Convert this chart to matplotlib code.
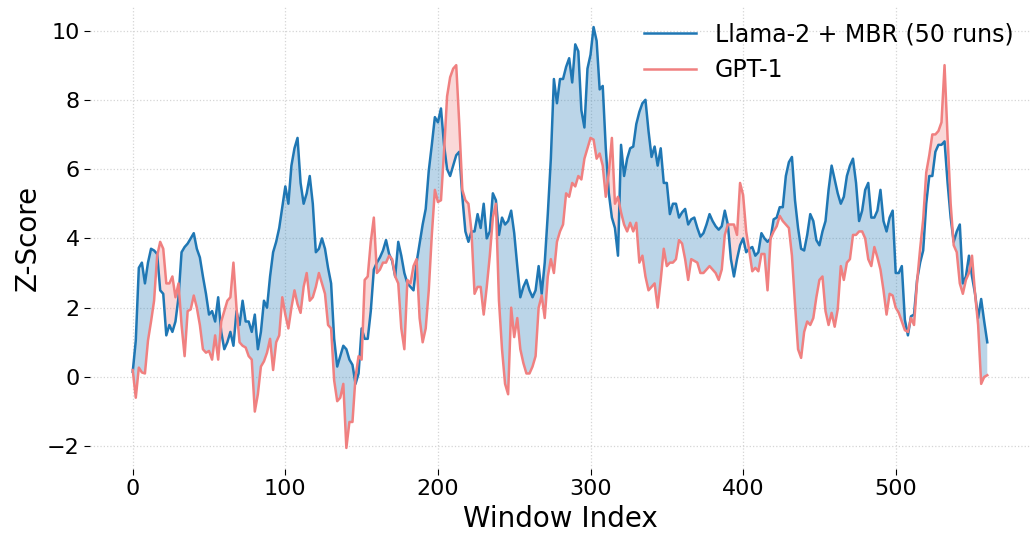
import numpy as np
import matplotlib
matplotlib.use("Agg")
import matplotlib.pyplot as plt

window_index = list(range(0, 561, 2))

llama_mbr = [
    0.15, 1.05, 3.15, 3.3, 2.7, 3.3, 3.7, 3.65, 3.55, 2.5,
    2.4, 1.2, 1.5, 1.3, 1.6, 2.3, 3.6, 3.75, 3.85, 4.0,
    4.15, 3.7, 3.45, 2.9, 2.4, 1.8, 1.9, 1.6, 2.3, 1.3,
    0.8, 1.0, 1.3, 0.9, 1.9, 1.5, 2.2, 1.6, 1.6, 1.3,
    1.8, 0.8, 1.3, 2.2, 2.0, 2.9, 3.6, 3.9, 4.3, 4.9,
    5.5, 5.0, 6.1, 6.6, 6.9, 5.6, 5.0, 5.3, 5.8, 5.0,
    3.6, 3.7, 4.0, 3.7, 3.15, 2.7, 1.1, 0.3, 0.6, 0.9,
    0.8, 0.5, 0.35, -0.2, 0.1, 1.4, 1.1, 1.1, 1.9, 3.1,
    3.3, 3.45, 3.65, 3.95, 3.55, 3.35, 2.9, 3.9, 3.5, 3.0,
    2.7, 2.6, 2.5, 3.3, 3.85, 4.4, 4.85, 5.95, 6.7, 7.5,
    7.35, 7.75, 6.7, 6.0, 5.8, 6.1, 6.4, 6.5, 5.2, 4.2,
    3.9, 4.2, 4.2, 4.7, 4.3, 5.0, 4.0, 4.2, 5.3, 5.1,
    4.1, 4.6, 4.4, 4.5, 4.8, 4.15, 3.2, 2.3, 2.6, 2.8,
    2.5, 2.3, 2.5, 3.2, 2.4, 3.3, 4.7, 6.3, 8.6, 7.9,
    8.6, 8.6, 8.95, 9.2, 8.5, 9.6, 9.4, 7.7, 7.2, 8.9,
    9.3, 10.1, 9.7, 8.3, 8.4, 6.6, 5.3, 4.6, 4.3, 3.5,
    6.7, 5.8, 6.3, 6.6, 6.65, 7.3, 7.65, 7.9, 8.0, 7.1,
    6.35, 6.65, 6.1, 6.6, 5.6, 5.6, 4.7, 5.0, 5.0, 4.6,
    4.75, 4.85, 4.4, 4.55, 4.6, 4.3, 4.05, 4.15, 4.4, 4.7,
    4.5, 4.35, 4.25, 4.35, 4.8, 4.4, 3.4, 2.9, 3.4, 3.8,
    4.0, 3.6, 3.7, 3.75, 3.5, 3.6, 4.15, 4.0, 3.9, 4.0,
    4.55, 4.6, 4.9, 4.9, 5.8, 6.2, 6.35, 5.1, 4.3, 3.7,
    3.65, 4.1, 4.7, 4.5, 3.95, 3.8, 4.2, 4.5, 5.4, 6.1,
    5.7, 5.3, 5.0, 5.2, 5.8, 6.1, 6.3, 5.6, 4.5, 4.8,
    5.4, 5.6, 4.6, 4.6, 4.8, 5.4, 4.5, 4.2, 4.6, 4.8,
    3.0, 3.0, 3.2, 1.65, 1.2, 1.75, 1.8, 2.8, 3.3, 3.65,
    5.0, 5.8, 5.8, 6.5, 6.7, 6.7, 6.8, 5.6, 4.6, 3.9,
    4.2, 4.4, 2.7, 2.9, 3.5, 2.9, 2.4, 1.7, 2.25, 1.6,
    1.0,
]

gpt1 = [
    0.2, -0.6, 0.27, 0.13, 0.1, 1.05, 1.6, 2.2, 3.5, 3.9,
    3.7, 2.7, 2.7, 2.9, 2.3, 2.7, 1.5, 0.6, 1.9, 1.95,
    2.35, 2.0, 1.5, 0.8, 0.7, 0.75, 0.5, 1.2, 0.5, 1.6,
    1.9, 2.2, 2.3, 3.3, 2.0, 1.0, 0.9, 0.85, 0.6, 0.5,
    -1.0, -0.5, 0.3, 0.45, 0.7, 1.1, 0.2, 1.0, 1.2, 2.3,
    1.8, 1.4, 2.0, 2.5, 2.1, 1.85, 2.6, 3.0, 2.2, 2.3,
    2.6, 3.0, 2.7, 2.4, 1.5, 1.4, -0.1, -0.7, -0.6, -0.2,
    -2.05, -1.3, -1.3, 0.0, 0.6, 0.5, 2.8, 2.9, 3.9, 4.6,
    3.0, 3.1, 3.3, 3.3, 3.5, 3.4, 2.9, 2.7, 1.4, 0.8,
    2.8, 2.7, 3.2, 3.4, 1.7, 1.0, 1.4, 2.5, 4.1, 5.4,
    5.05, 5.1, 6.5, 8.1, 8.65, 8.9, 9.0, 7.3, 5.4, 5.1,
    5.0, 4.2, 2.4, 2.6, 2.6, 1.8, 2.6, 3.5, 4.6, 5.0,
    2.2, 0.8, -0.2, -0.5, 2.0, 1.15, 1.7, 0.8, 0.4, 0.1,
    0.1, 0.3, 0.6, 2.0, 2.35, 1.7, 2.9, 3.4, 3.0, 3.9,
    4.2, 4.4, 5.3, 5.2, 5.6, 5.5, 5.8, 5.7, 6.3, 6.6,
    6.9, 6.85, 6.3, 6.45, 6.1, 5.2, 5.9, 6.9, 5.0, 5.2,
    4.75, 4.4, 4.2, 4.45, 4.2, 4.45, 3.3, 3.5, 2.9, 2.5,
    2.6, 2.7, 2.0, 2.8, 3.7, 3.2, 3.3, 3.3, 3.4, 3.95,
    3.85, 3.4, 2.8, 3.4, 3.35, 3.3, 3.0, 3.0, 3.1, 3.2,
    3.1, 3.0, 2.8, 3.1, 4.1, 4.4, 4.4, 4.4, 4.1, 5.6,
    5.25, 4.2, 3.65, 3.05, 3.15, 3.05, 3.55, 3.55, 2.5, 4.0,
    4.2, 4.35, 4.65, 4.5, 4.4, 4.3, 3.5, 2.1, 0.8, 0.55,
    1.3, 1.6, 1.5, 1.7, 2.3, 2.8, 2.9, 1.9, 1.5, 1.85,
    1.45, 1.95, 3.2, 2.8, 3.3, 3.4, 4.1, 4.1, 4.2, 4.2,
    4.0, 3.4, 3.2, 3.75, 3.45, 3.1, 2.5, 1.8, 2.4, 2.35,
    2.0, 1.85, 1.6, 1.35, 1.3, 1.7, 1.5, 2.75, 3.7, 4.55,
    5.9, 6.4, 7.0, 7.0, 7.1, 7.35, 9.0, 6.9, 5.0, 3.8,
    3.6, 2.7, 2.4, 2.8, 3.0, 3.5, 2.4, 1.5, -0.2, 0.0,
    0.05,
]

series_labels = ["Llama-2 + MBR (50 runs)", "GPT-1"]
x_label = "Window Index"
y_label = "Z-Score"

blue = "#1f77b4"
red = "#f08080"

x = np.array(window_index)
a = np.array(llama_mbr)
b = np.array(gpt1)

fig = plt.figure(figsize=(10.33, 5.40), dpi=100)
ax = fig.add_axes([90 / 1033, 1 - 469 / 540, 940 / 1033, 463 / 540])

ax.fill_between(x, a, b, where=a >= b, interpolate=True, color=blue, alpha=0.3, linewidth=0)
ax.fill_between(x, a, b, where=a < b, interpolate=True, color=red, alpha=0.3, linewidth=0)
ax.plot(x, a, color=blue, lw=1.8, label=series_labels[0])
ax.plot(x, b, color=red, lw=1.8, label=series_labels[1])

for s in ax.spines.values():
    s.set_visible(False)
ax.grid(True, linestyle=":", color="#d5d5d5", linewidth=0.9)
ax.set_axisbelow(True)
ax.tick_params(labelsize=16, length=4, width=0.8)
ax.set_yticks([-2, 0, 2, 4, 6, 8, 10])
ax.set_xticks([0, 100, 200, 300, 400, 500])
ax.set_xlabel(x_label, fontsize=20)
ax.set_ylabel(y_label, fontsize=20)
ax.legend(loc="upper right", fontsize=17, frameon=False, borderaxespad=0.3,
          handlelength=2.2, labelspacing=0.5)

fig.savefig("out.png", dpi=100)
